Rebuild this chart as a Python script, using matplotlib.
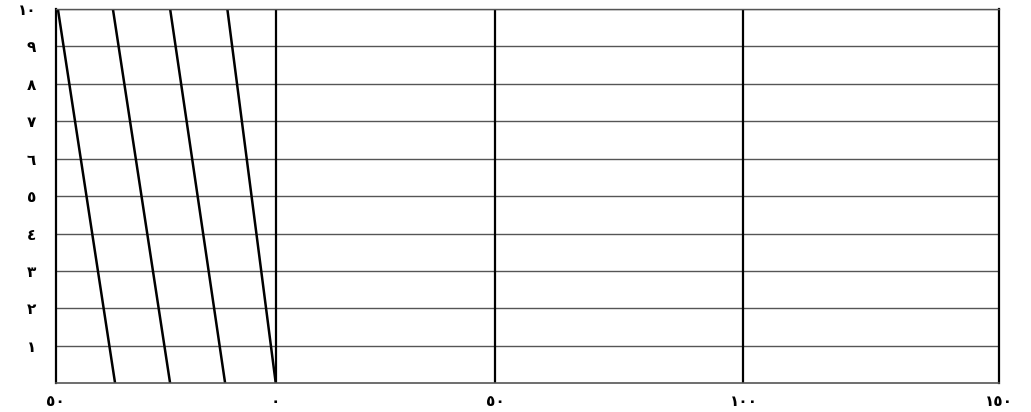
import numpy as np
import matplotlib.pyplot as plt

# tick values and their Arabic-Indic labels
x_ticks = [-50, 0, 50, 100, 150]
x_labels = ["٥٠", "٠", "٥٠", "١٠٠", "١٥٠"]
y_ticks = [1, 2, 3, 4, 5, 6, 7, 8, 9, 10]
y_labels = ["١", "٢", "٣", "٤", "٥", "٦", "٧", "٨", "٩", "١٠"]

# the four slanted lines: x at the bottom (y=0) and at the top (y=10)
line_bottom = [-36.5, -24, -11.5, 0]
line_top = [-49.5, -37, -24, -11]

# the original grid is drawn with uneven spacing, so warp the x scale a bit
grid_pos = [0, 220, 439.5, 687.5, 943]


def fwd(x):
    return np.interp(x, x_ticks, grid_pos)


def inv(p):
    return np.interp(p, grid_pos, x_ticks)


plt.rcParams['font.family'] = ['DejaVu Sans']

fig = plt.figure(figsize=(10.31, 4.12), dpi=100)
ax = fig.add_axes([0.054, 0.0697, 0.915, 0.9085])
ax.set_xscale('function', functions=(fwd, inv))
ax.set_xlim(-50, 150)
ax.set_ylim(0, 10)

# horizontal grid
for y in y_ticks:
    ax.axhline(y, color='#555555', lw=1.0, zorder=1)

# vertical grid
for x in x_ticks[1:-1]:
    ax.axvline(x, color='black', lw=1.6, zorder=1)

# slanted lines
for b, t in zip(line_bottom, line_top):
    ax.plot([b, t], [0, 10], color='black', lw=1.8, zorder=2)

for side in ['left', 'right']:
    ax.spines[side].set_color('black')
    ax.spines[side].set_linewidth(1.6)
ax.spines['bottom'].set_color('#555555')
ax.spines['bottom'].set_linewidth(1.2)
ax.spines['top'].set_color('#555555')
ax.spines['top'].set_linewidth(1.0)

ax.set_xticks(x_ticks)
ax.set_xticklabels(x_labels, fontsize=11, fontweight='bold')
ax.set_yticks(y_ticks)
ax.set_yticklabels(y_labels, fontsize=11, fontweight='bold')
ax.tick_params(axis='x', length=0, pad=8)
ax.tick_params(axis='y', length=0, pad=14)

fig.savefig("out.png", dpi=100)
